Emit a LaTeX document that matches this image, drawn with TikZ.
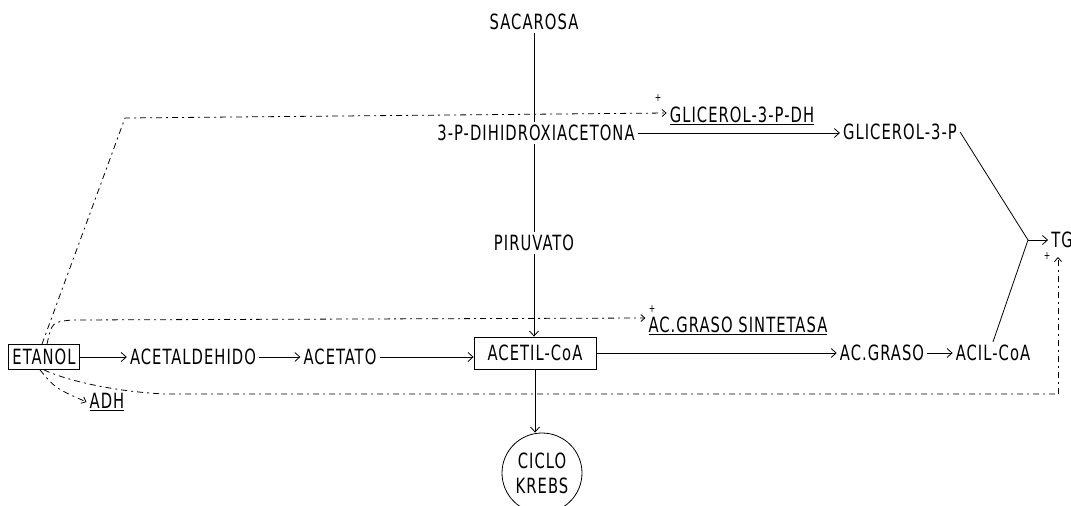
\documentclass[tikz,border=0pt]{standalone}
\usepackage{fontspec}
\setmainfont[FakeStretch=0.78, LetterSpace=5]{DejaVu Sans Condensed}
\usetikzlibrary{arrows.meta}

\tikzset{
  label/.style={font=\fontsize{21}{25}\selectfont, inner sep=3pt},
  box/.style={label, draw, line width=0.8pt, inner sep=4pt},
  plus/.style={font=\fontsize{11}{11}\selectfont, inner sep=0pt},
  flow/.style={-{Straight Barb[length=5pt,width=9pt]}, line width=0.8pt},
  dashflow/.style={line width=0.8pt, dash pattern=on 6pt off 4pt on 2pt off 4pt}
}

\begin{document}
\begin{tikzpicture}[x=1pt,y=-1pt]
	\useasboundingbox (0,0) rectangle (1071,506);

	\begin{scope}[every node/.style={label}]
		\node (sacarosa) at (534,22) {SACAROSA};
		\node (dhap) at (536,133) {3-P-DIHIDROXIACETONA};
		\node (piruvato) at (534,243) {PIRUVATO};
		\node[box, minimum width=122, minimum height=32] (acetil) at (535,353) {ACETIL-CoA};
		\node[box, minimum width=71, minimum height=25] (etanol) at (44,357) {ETANOL};
		\node (acetal) at (193,357) {ACETALDEHIDO};
		\node (acetato) at (340,357) {ACETATO};
		\node (acgraso) at (882,353) {AC.GRASO};
		\node (acil) at (993,353) {ACIL-CoA};
		\node (g3p) at (900,132) {GLICEROL-3-P};
		\node (gdh) at (742,116) {\underline{GLICEROL-3-P-DH}};
		\node (sint) at (738,326) {\underline{AC.GRASO SINTETASA}};
		\node (adh) at (107,402) {\underline{ADH}};
		\node (tg) at (1062,240) {TG};
		\node[circle, draw, line width=0.8pt, minimum size=80, align=center, inner sep=0pt] (krebs) at (542,473) {CICLO\\KREBS};
	\end{scope}

	% signos +
	\node[plus] (p1) at (658,98) {+};
	\node[plus] (p2) at (652,309) {+};
	\node[plus] (p3) at (1047,256) {+};

	\coordinate (jn) at (1028,240);
	\coordinate (c1) at (125,118);
	\coordinate (c2) at (72,320);
	\coordinate (c3) at (165,394);
	\coordinate (c4) at (1058,394);
	\coordinate (tgin) at (1058,257);

	% via principal
	\draw[line width=0.8pt] (sacarosa.south) -- (sacarosa.south |- dhap.north);
	\draw[line width=0.8pt] (sacarosa.south |- dhap.south) -- (sacarosa.south |- piruvato.north);
	\draw[flow] (piruvato.south) -- (piruvato.south |- acetil.north);
	\draw[flow] (acetil.south) -- (acetil.south |- krebs.north);
	\draw[flow] (etanol.east) -- (acetal.west);
	\draw[flow] (acetal.east) -- (acetato.west);
	\draw[flow] (acetato.east) -- (acetato.east -| acetil.west);
	\draw[flow] (acetil.east) -- (acgraso.west);
	\draw[flow] (acgraso.east) -- (acil.west);
	\draw[flow] (dhap.east) -- (dhap.east -| g3p.west);
	\draw[line width=0.8pt] (g3p.east) -- (jn);
	\draw[line width=0.8pt] (acil.north) -- (jn);
	\draw[flow] (jn) -- (tg.west);

	% efectos del etanol
	\draw[dashflow, -{Straight Barb[length=4pt,width=7pt]}] ([xshift=-2pt]etanol.north) -- (c1) -- ([yshift=3pt]gdh.west);
	\draw[dashflow, -{Straight Barb[length=4pt,width=7pt]}] ([xshift=3pt]etanol.north) .. controls (52,322) .. (c2) -- ([yshift=8pt]sint.west);
	\draw[dashflow] (etanol.south) .. controls (70,382) and (120,392) .. (c3) -- (c4);
	\draw[dashflow, -{Straight Barb[length=4pt,width=7pt]}] (c4) -- (tgin);
	\draw[dashflow, -{Straight Barb[length=4pt,width=7pt]}] ([xshift=-4pt]etanol.south) .. controls (55,388) .. (adh.west);
\end{tikzpicture}
\end{document}
